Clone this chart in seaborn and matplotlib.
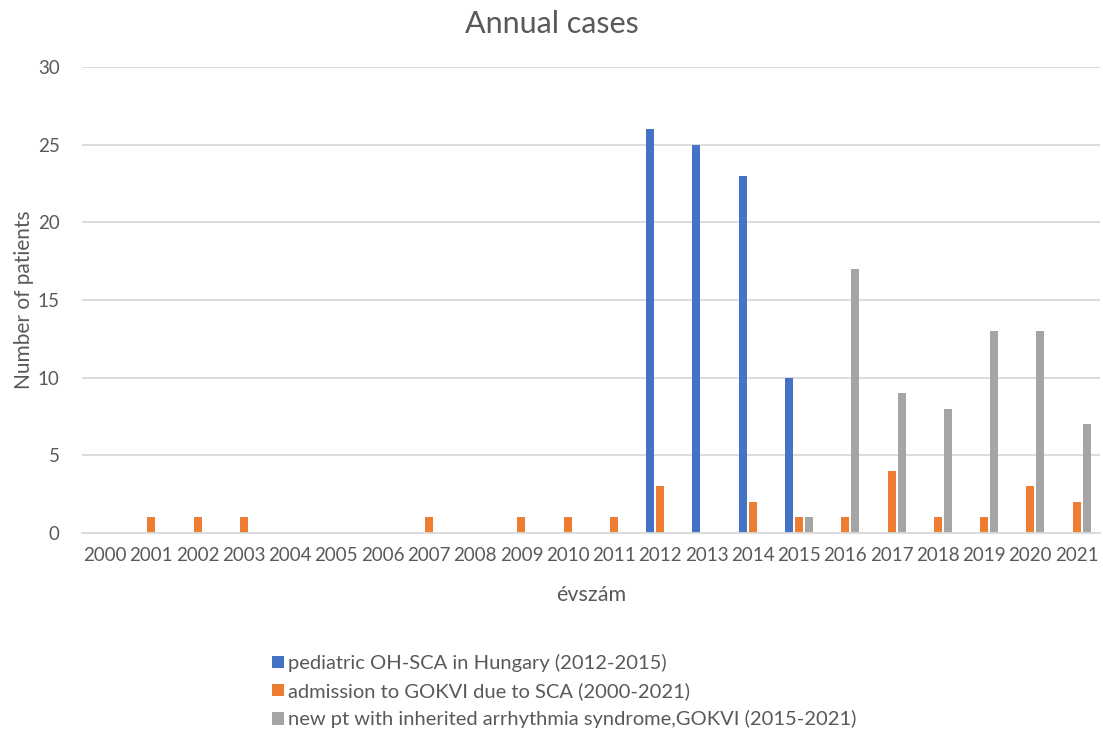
import numpy as np
import pandas as pd
import matplotlib
matplotlib.use("Agg")
import matplotlib.pyplot as plt
import seaborn as sns
from matplotlib.patches import Patch

years = [str(y) for y in range(2000, 2022)]
pediatric = [0, 0, 0, 0, 0, 0, 0, 0, 0, 0, 0, 0, 26, 25, 23, 10, 0, 0, 0, 0, 0, 0]
admission = [0, 1, 1, 1, 0, 0, 0, 1, 0, 1, 1, 1, 3, 0, 2, 1, 1, 4, 1, 1, 3, 2]
inherited = [0, 0, 0, 0, 0, 0, 0, 0, 0, 0, 0, 0, 0, 0, 0, 1, 17, 9, 8, 13, 13, 7]

series_names = [
    "pediatric OH-SCA in Hungary (2012-2015)",
    "admission to GOKVI due to SCA (2000-2021)",
    "new pt with inherited arrhythmia syndrome,GOKVI (2015-2021)",
]
colors = ["#4472C4", "#ED7D31", "#A5A5A5"]

df = pd.DataFrame({
    "year": years * 3,
    "value": pediatric + admission + inherited,
    "series": [series_names[0]] * len(years) + [series_names[1]] * len(years) + [series_names[2]] * len(years),
})

sns.set_theme(style="white")
plt.rcParams["font.family"] = ["Lato", "DejaVu Sans"]

text_color = "#595959"
grid_color = "#D9D9D9"

fig = plt.figure(figsize=(11.03, 7.31), dpi=100)
ax = fig.add_axes([0.0743, 0.2709, 0.9227, 0.6374])

sns.barplot(data=df, x="year", y="value", hue="series", hue_order=series_names,
            palette=colors, width=0.65, gap=0.2, ax=ax, legend=False,
            saturation=1, edgecolor="none")

ax.set_ylim(0, 30)
ax.set_xlim(-0.5, len(years) - 0.5)
ax.set_yticks(range(0, 31, 5))
ax.yaxis.grid(True, color=grid_color, linewidth=1.3)
ax.set_axisbelow(True)
for side in ["top", "right", "left"]:
    ax.spines[side].set_visible(False)
ax.spines["bottom"].set_color(grid_color)
ax.spines["bottom"].set_linewidth(1.3)
ax.tick_params(axis="both", length=0, labelsize=13.5, colors=text_color)
ax.tick_params(axis="x", pad=10)
ax.tick_params(axis="y", pad=16)

ax.set_xlabel("évszám", fontsize=15.5, color=text_color, labelpad=15)
ax.set_ylabel("Number of patients", fontsize=15, color=text_color, labelpad=3)
fig.text(0.5, 0.967, "Annual cases", ha="center", va="center", fontsize=22,
         color=text_color)

handles = [Patch(facecolor=c, edgecolor="none") for c in colors]
fig.legend(handles, series_names, loc="upper left", bbox_to_anchor=(0.2375, 0.119),
           frameon=False, fontsize=14.5, labelcolor=text_color, handlelength=0.6,
           handleheight=0.6, handletextpad=0.2, labelspacing=0.5, borderpad=0)

fig.savefig("out.png", dpi=100)
